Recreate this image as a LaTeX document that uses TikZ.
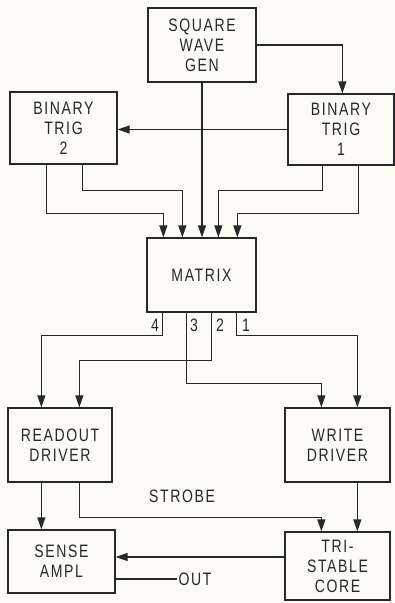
\documentclass[tikz,border=0pt]{standalone}
\usepackage{fontspec}
\setmainfont{Liberation Sans}[FakeStretch=0.78,LetterSpace=9]
\usepackage{xcolor}
\usepackage{tikz}
\usetikzlibrary{arrows.meta,calc}
\definecolor{ink}{RGB}{40,40,40}
\definecolor{paper}{RGB}{252,252,244}

\begin{document}
\begin{tikzpicture}[x=1pt,y=-1pt,
  blk/.style={draw=ink,line width=1.3pt,align=center,inner sep=0pt,text=ink,font=\fontsize{18}{20}\selectfont},
  lbl/.style={inner sep=1pt,text=ink,font=\fontsize{18}{20}\selectfont},
  wire/.style={draw=ink,line width=1.3pt},
  arr/.style={wire,-{Triangle[length=12pt,width=8pt]}}]
  % paper
  \fill[paper] (0,0) rectangle (395,603);
  % blocks
  \node[blk,minimum width=108pt,minimum height=74pt] (sqw) at (202,45) {SQUARE\\WAVE\\GEN};
  \node[blk,minimum width=107pt,minimum height=72pt] (bt2) at (63.5,128) {BINARY\\TRIG\\2};
  \node[blk,minimum width=106pt,minimum height=71pt] (bt1) at (341,129.5) {BINARY\\TRIG\\1};
  \node[blk,minimum width=109pt,minimum height=74pt] (mtx) at (201.5,275) {MATRIX};
  \node[blk,minimum width=104pt,minimum height=74pt] (rd) at (60,445) {READOUT\\DRIVER};
  \node[blk,minimum width=105pt,minimum height=74pt] (wd) at (337.5,445) {WRITE\\DRIVER};
  \node[blk,minimum width=107pt,minimum height=63pt] (sa) at (61.5,561.5) {SENSE\\AMPL};
  \node[blk,minimum width=105pt,minimum height=68pt] (tsc) at (337.5,566) {TRI-\\STABLE\\CORE};
  % labels
  \node[lbl] (n4) at (155,325) {4};
  \node[lbl] (n3) at (194,325) {3};
  \node[lbl] (n2) at (220,325) {2};
  \node[lbl] (n1) at (246,325) {1};
  \node[lbl] (strobe) at (182,496) {STROBE};
  \node[lbl] (out) at (195,579) {OUT};
  % square wave generator
  \draw[arr] (sqw.south) -- (sqw.south |- mtx.north);
  \draw[arr] (sqw.east) -| ($(bt1.north west)+(55,0)$);
  \draw[arr] (bt1.west) -- (bt1.west -| bt2.east);
  % triggers into matrix
  \draw[arr] ($(bt2.south west)+(37,0)$) -- ++(0,49) -| ($(mtx.north west)+(17,0)$);
  \draw[arr] ($(bt2.south west)+(73,0)$) -- ++(0,26) -| ($(mtx.north west)+(36,0)$);
  \draw[arr] ($(bt1.south west)+(35,0)$) -- ++(0,25) -| ($(mtx.north west)+(72,0)$);
  \draw[arr] ($(bt1.south west)+(71,0)$) -- ++(0,48) -| ($(mtx.north west)+(91,0)$);
  % matrix outputs
  \draw[arr] ($(mtx.south west)+(16,0)$) -- ++(0,23) -| ($(rd.north west)+(34,0)$);
  \draw[arr] ($(mtx.south west)+(65,0)$) -- ++(0,48) -| ($(rd.north west)+(72,0)$);
  \draw[arr] ($(mtx.south west)+(40,0)$) -- ++(0,71) -| ($(wd.north west)+(37,0)$);
  \draw[arr] ($(mtx.south west)+(90,0)$) -- ++(0,23) -| ($(wd.north west)+(73,0)$);
  % drivers, core and sense amplifier
  \draw[arr] ($(rd.south west)+(34,0)$) -- ($(sa.north west)+(34,0)$);
  \draw[arr] ($(rd.south west)+(72,0)$) -- ++(0,35) -| ($(tsc.north west)+(37,0)$);
  \draw[arr] ($(wd.south west)+(73,0)$) -- ($(tsc.north west)+(73,0)$);
  \draw[arr] ([yshift=9pt]tsc.west) -- ([yshift=9pt]tsc.west -| sa.east);
  \draw[wire] ([yshift=-17.5pt]sa.east) -- ([yshift=-17.5pt]sa.east -| out.west);
\end{tikzpicture}
\end{document}
